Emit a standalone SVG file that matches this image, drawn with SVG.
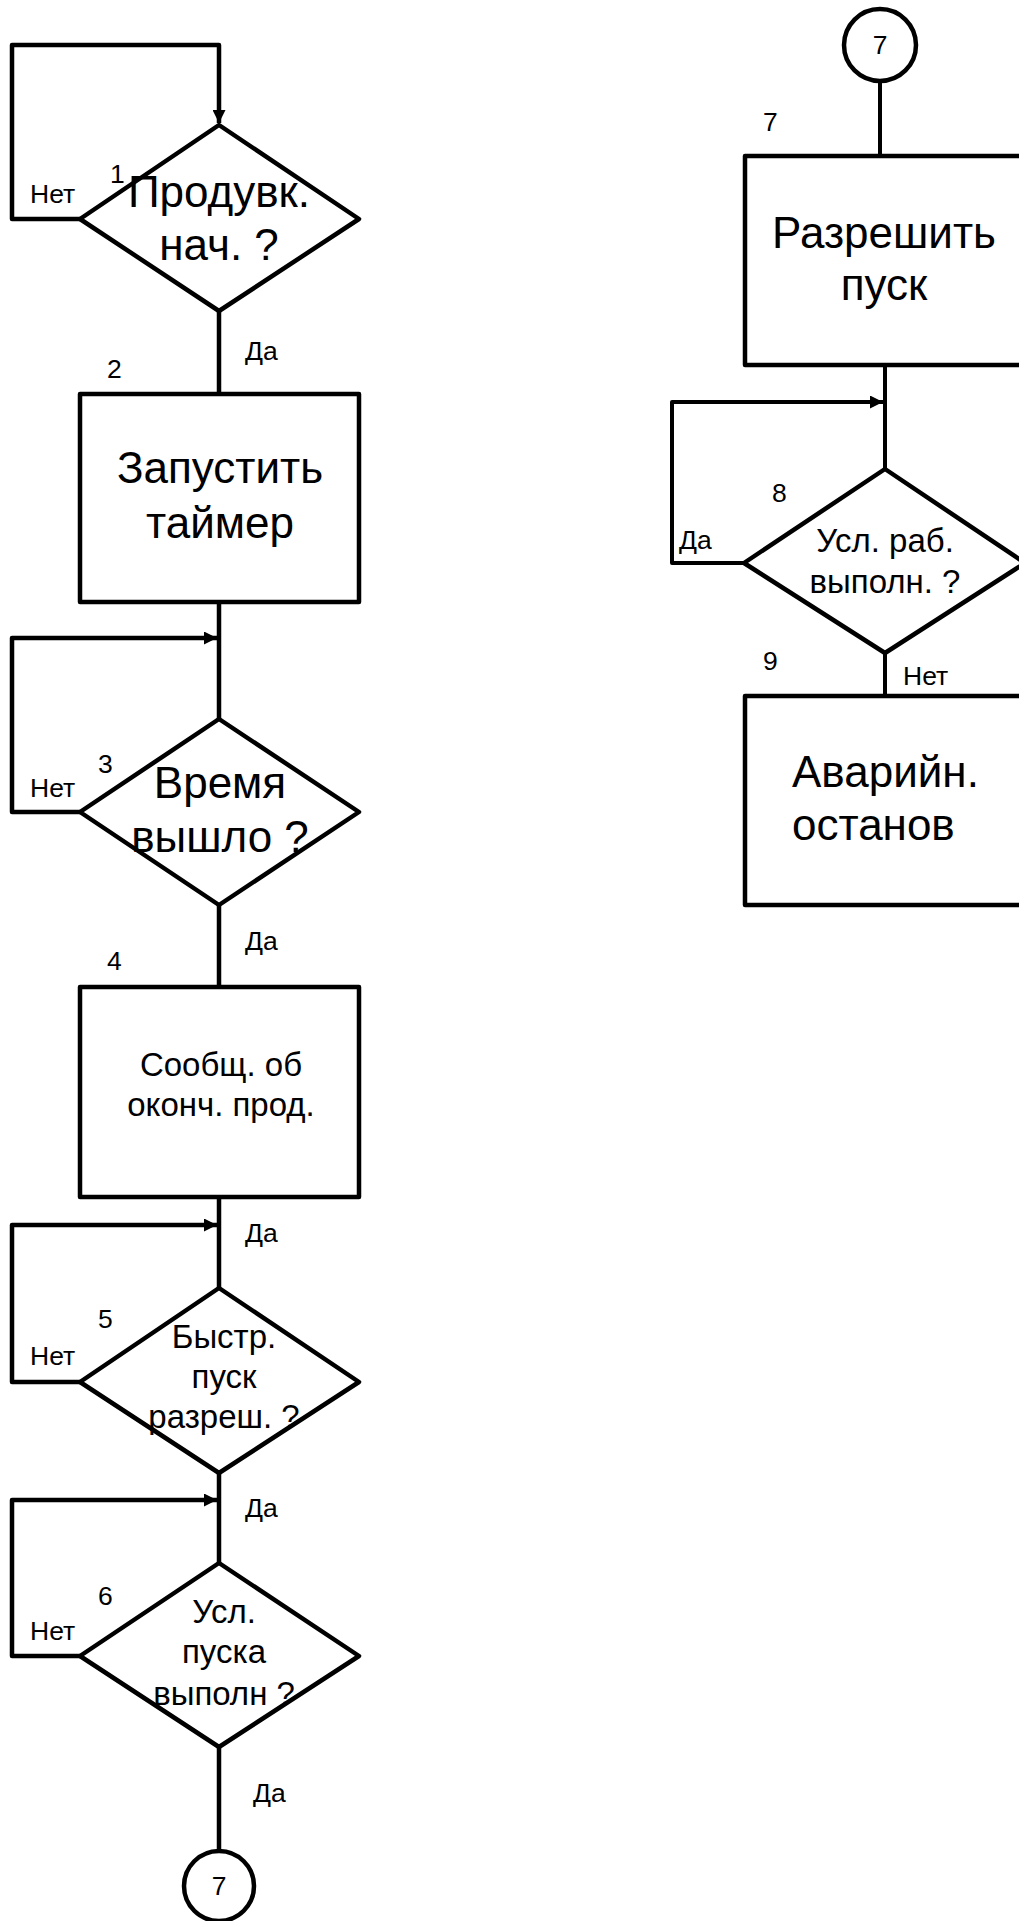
<svg xmlns="http://www.w3.org/2000/svg" width="1019" height="1921" viewBox="0 0 1019 1921">
<style>
.shape{fill:#fff;stroke:#000;stroke-width:4.5;stroke-linejoin:round}
.line{fill:none;stroke:#000;stroke-width:4.5;stroke-linejoin:round}
.thin{fill:none;stroke:#000;stroke-width:4;stroke-linejoin:round}
text{font-family:"Liberation Sans",Arial,sans-serif;fill:#000}
.s{font-size:26.5px}
.m{font-size:33px;text-anchor:middle}
.b{font-size:44px;text-anchor:middle}
.bl{font-size:44px}
.c{font-size:26.5px;text-anchor:middle}
</style>
<defs>
<marker id="arr" viewBox="0 0 12 12" refX="12" refY="6" markerWidth="13" markerHeight="13" markerUnits="userSpaceOnUse" orient="auto">
<path d="M0,0 L12,6 L0,12 Z" fill="#000"/>
</marker>
</defs>
<g id="connectors">
<polyline class="line" points="80,219 12,219 12,45 219,45 219,123" marker-end="url(#arr)"/>
<line class="line" x1="219" y1="311" x2="219" y2="394"/>
<line class="line" x1="219" y1="602" x2="219" y2="719"/>
<polyline class="line" points="80,812 12,812 12,638 217,638" marker-end="url(#arr)"/>
<line class="line" x1="219" y1="905" x2="219" y2="987"/>
<line class="line" x1="219" y1="1197" x2="219" y2="1288"/>
<polyline class="line" points="80,1382 12,1382 12,1225 217,1225" marker-end="url(#arr)"/>
<line class="line" x1="219" y1="1473" x2="219" y2="1563"/>
<polyline class="line" points="80,1656 12,1656 12,1500 217,1500" marker-end="url(#arr)"/>
<line class="line" x1="219" y1="1747" x2="219" y2="1851"/>
<line class="thin" x1="880" y1="81" x2="880" y2="156"/>
<line class="thin" x1="885" y1="365" x2="885" y2="469"/>
<polyline class="thin" points="744,563 672,563 672,402 883,402" marker-end="url(#arr)"/>
<line class="thin" x1="885" y1="653" x2="885" y2="696"/>
</g>
<g id="n1">
<polygon class="shape" points="219,125 359,219 219,311 80,219"/>
<text class="b" x="219" y="207">Продувк.</text>
<text class="b" x="219" y="260">нач. ?</text>
<text class="s" x="110" y="183">1</text>
<text class="s" x="30" y="203">Нет</text>
<text class="s" x="245" y="360">Да</text>
</g>
<g id="n2">
<rect class="shape" x="80" y="394" width="279" height="208"/>
<text class="b" x="220" y="483">Запустить</text>
<text class="b" x="220" y="538">таймер</text>
<text class="s" x="107" y="378">2</text>
</g>
<g id="n3">
<polygon class="shape" points="219,719 359,812 219,905 80,812"/>
<text class="b" x="220" y="798">Время</text>
<text class="b" x="220" y="852">вышло ?</text>
<text class="s" x="98" y="773">3</text>
<text class="s" x="30" y="797">Нет</text>
<text class="s" x="245" y="950">Да</text>
</g>
<g id="n4">
<rect class="shape" x="80" y="987" width="279" height="210"/>
<text class="m" x="221" y="1076">Сообщ. об</text>
<text class="m" x="221" y="1116">оконч. прод.</text>
<text class="s" x="107" y="970">4</text>
<text class="s" x="245" y="1242">Да</text>
</g>
<g id="n5">
<polygon class="shape" points="219,1288 359,1382 219,1473 80,1382"/>
<text class="m" x="224" y="1348">Быстр.</text>
<text class="m" x="224" y="1388">пуск</text>
<text class="m" x="224" y="1428">разреш. ?</text>
<text class="s" x="98" y="1328">5</text>
<text class="s" x="30" y="1365">Нет</text>
<text class="s" x="245" y="1517">Да</text>
</g>
<g id="n6">
<polygon class="shape" points="219,1563 359,1656 219,1747 80,1656"/>
<text class="m" x="224" y="1623">Усл.</text>
<text class="m" x="224" y="1663">пуска</text>
<text class="m" x="224" y="1705">выполн ?</text>
<text class="s" x="98" y="1605">6</text>
<text class="s" x="30" y="1640">Нет</text>
<text class="s" x="253" y="1802">Да</text>
</g>
<g id="c7bottom">
<circle class="shape" cx="219" cy="1886" r="35"/>
<text class="c" x="219" y="1895">7</text>
</g>
<g id="c7top">
<circle class="shape" cx="880" cy="45" r="36"/>
<text class="c" x="880" y="54">7</text>
</g>
<g id="n7">
<rect class="shape" x="745" y="156" width="279" height="209"/>
<text class="b" x="884" y="248">Разрешить</text>
<text class="b" x="884" y="300">пуск</text>
<text class="s" x="763" y="131">7</text>
</g>
<g id="n8">
<polygon class="shape" points="885,469 1025,563 885,653 744,563"/>
<text class="m" x="885" y="552">Усл. раб.</text>
<text class="m" x="885" y="593">выполн. ?</text>
<text class="s" x="772" y="502">8</text>
<text class="s" x="679" y="549">Да</text>
</g>
<g id="n9">
<rect class="shape" x="745" y="696" width="279" height="209"/>
<text class="bl" x="792" y="787">Аварийн.</text>
<text class="bl" x="792" y="840">останов</text>
<text class="s" x="763" y="670">9</text>
<text class="s" x="903" y="685">Нет</text>
</g>
</svg>
